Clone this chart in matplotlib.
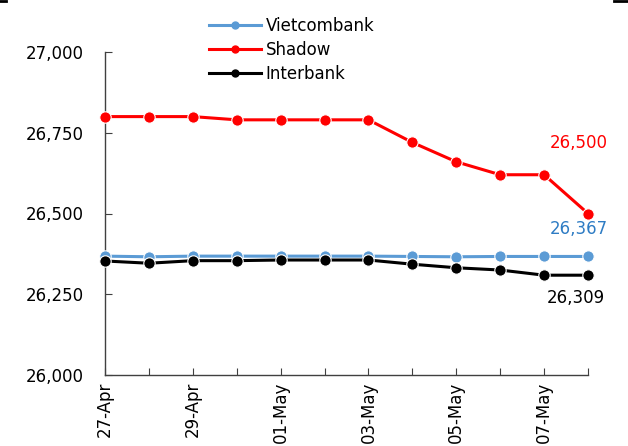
import matplotlib
matplotlib.use("Agg")
import matplotlib.pyplot as plt
from matplotlib.lines import Line2D

# Exchange rates (VND per USD)
dates = ["27-Apr", "28-Apr", "29-Apr", "30-Apr", "01-May", "02-May",
         "03-May", "04-May", "05-May", "06-May", "07-May", "08-May"]
vietcombank = [26368, 26366, 26368, 26368, 26368, 26368,
               26368, 26367, 26366, 26367, 26367, 26367]
shadow = [26800, 26800, 26800, 26790, 26790, 26790,
          26790, 26720, 26660, 26620, 26620, 26500]
interbank = [26353, 26346, 26354, 26354, 26356, 26356,
             26356, 26343, 26332, 26325, 26309, 26309]

y_ticks = [26000, 26250, 26500, 26750, 27000]

plt.rcParams["font.family"] = ["DejaVu Sans"]
FS = 12

fig = plt.figure(figsize=(6.28, 4.46), dpi=100)
ax = fig.add_axes([105 / 628, 1 - 375 / 446, 483 / 628, 323 / 446])

x = list(range(len(dates)))
series = [
    ("Vietcombank", vietcombank, "#5B9BD5", "#2E7CC4"),
    ("Shadow", shadow, "#FF0000", "#FF0000"),
    ("Interbank", interbank, "#000000", "#000000"),
]
for name, vals, col, _ in series:
    ax.plot(x, vals, color=col, lw=2.2, marker="o", ms=8.2,
            mfc=col, mec="white", mew=0.8, clip_on=False, zorder=3)

ax.set_xlim(0, len(dates) - 1)
ax.set_ylim(26000, 27000)
ax.set_yticks(y_ticks)
ax.set_yticklabels([f"{v:,}" for v in y_ticks], fontsize=FS)
ax.set_xticks(x)
ax.set_xticklabels([d if i % 2 == 0 else "" for i, d in enumerate(dates)],
                   rotation=90, fontsize=FS, va="top", ha="center")

ax.tick_params(axis="y", direction="in", length=5, pad=15, color="#404040")
ax.tick_params(axis="x", direction="in", length=5, pad=5, color="#404040")
for s in ("top", "right"):
    ax.spines[s].set_visible(False)
for s in ("left", "bottom"):
    ax.spines[s].set_color("#404040")
    ax.spines[s].set_linewidth(1.0)

# End-of-period value labels
last = len(dates) - 1
ax.annotate(f"{shadow[-1]:,}", (last, shadow[-1]), xytext=(-9, 70),
            textcoords="offset pixels", ha="center", va="center",
            color="#FF0000", fontsize=FS)
ax.annotate(f"{vietcombank[-1]:,}", (last, vietcombank[-1]), xytext=(-9, 27),
            textcoords="offset pixels", ha="center", va="center",
            color="#2E7CC4", fontsize=FS)
ax.annotate(f"{interbank[-1]:,}", (last, interbank[-1]), xytext=(-12, -23),
            textcoords="offset pixels", ha="center", va="center",
            color="#000000", fontsize=FS)

handles = [Line2D([], [], color=c, lw=2.2, marker="o", ms=5, mfc=c, mec=c)
           for _, _, c, _ in series]
fig.legend(handles, [n for n, *_ in series], loc="upper left",
           bbox_to_anchor=(209 / 628, 1 - 17 / 446), frameon=False,
           fontsize=FS, borderpad=0, borderaxespad=0, handlelength=3.1,
           handletextpad=0.3, labelspacing=0.36)

# Border remnants at the top corners
fig.add_artist(Line2D([0, 6 / 628], [0.997, 0.997], color="black", lw=2,
                      transform=fig.transFigure))
fig.add_artist(Line2D([614 / 628, 1], [0.997, 0.997], color="black", lw=2,
                      transform=fig.transFigure))

fig.savefig("out.png", dpi=100)
